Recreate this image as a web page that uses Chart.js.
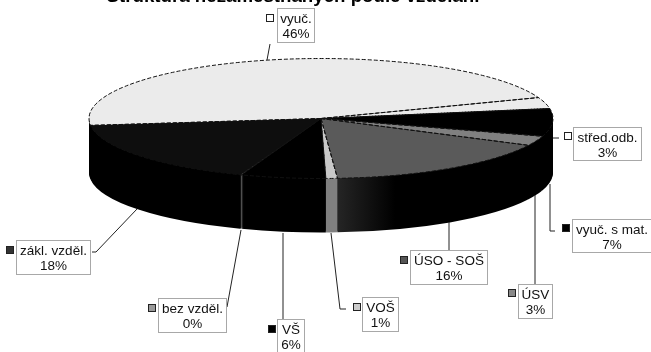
<!DOCTYPE html>
<html>
<head>
<meta charset="utf-8">
<style>
  html, body { margin: 0; padding: 0; background: #fff; overflow: hidden; }
  canvas { display: block; }
</style>
<script src="https://cdn.jsdelivr.net/npm/chart.js@4/dist/chart.umd.min.js"></script>
</head>
<body>
<canvas id="myChart" width="651" height="352"></canvas>
<script>
const chartTitle = "Struktura nezaměstnaných podle vzdělání";
const categories = ["vyuč.", "střed.odb.", "vyuč. s mat.", "ÚSV", "ÚSO - SOŠ", "VOŠ", "VŠ", "bez vzděl.", "zákl. vzděl."];
const shares = [46.16, 3, 7.45, 2.6, 16.49, 0.8, 5.9, 0.1, 17.5];
const percentLabels = ["46%", "3%", "7%", "3%", "16%", "1%", "6%", "0%", "18%"];

const topColors = ["#ebebeb", "#ebebeb", "#000000", "#808080", "#5a5a5a", "#c8c8c8", "#000000", "#999999", "#0e0e0e"];
const sideColors = ["#000000", "#000000", "#000000", "#000000", "#000000", "#808080", "#000000", "#777777", "#000000"];
const keyColors = ["#ffffff", "#ffffff", "#000000", "#888888", "#555555", "#cccccc", "#000000", "#999999", "#333333"];

// label box [left, top, right, bottom] for each category
const labelBoxes = [
  [277, 8, 315, 43], [573, 127, 642, 161], [572, 219, 652, 253],
  [518, 284, 553, 319], [410, 250, 488, 285], [362, 297, 399, 332],
  [277, 319, 305, 354], [158, 298, 227, 333], [16, 240, 91, 275]
];
// centre of the small legend key beside each label
const keyCentres = [
  [270, 18], [568, 136], [566, 228], [512, 293], [404, 260],
  [357, 307], [272, 329], [152, 308], [10, 250]
];
const leaderLines = [
  [[270, 44], [267, 60]],
  [[553, 138], [559, 138]],
  [[550, 184], [550, 231], [555, 231]],
  [[535, 195], [535, 284]],
  [[449, 222], [449, 250]],
  [[331, 233], [340, 309], [346, 309]],
  [[283, 233], [283, 319]],
  [[241, 230], [227, 307]],
  [[137, 209], [96, 252], [92, 252]]
];

const pieX = 321, pieY = 118.5, radiusX = 232, radiusY = 60, depth = 54;
const squash = radiusY / radiusX;

function applyPieTransform(ctx, arc, shift) {
  ctx.translate(pieX, pieY + shift);
  ctx.scale(1, squash);
  ctx.translate(-arc.x, -arc.y);
}

const pie3d = {
  id: "pie3d",
  beforeDatasetsDraw(chart) {
    const ctx = chart.ctx;
    const arcs = chart.getDatasetMeta(0).data;
    const first = arcs[0];

    // ÚSO side fades out to black
    const dx = first.x - pieX;
    const fade = ctx.createLinearGradient(336 + dx, 0, 395 + dx, 0);
    fade.addColorStop(0, "#262626");
    fade.addColorStop(1, "#000000");

    // side wall: same arcs stacked from the bottom upwards
    for (let d = depth; d > 0; d--) {
      ctx.save();
      applyPieTransform(ctx, first, d);
      arcs.forEach((arc, i) => {
        const saved = arc.options;
        arc.options = Object.assign({}, saved, { backgroundColor: i == 4 ? fade : sideColors[i] });
        arc.draw(ctx);
        arc.options = saved;
      });
      ctx.restore();
    }
    ctx.save();
    applyPieTransform(ctx, first, 0);
  },
  afterDatasetsDraw(chart) {
    const ctx = chart.ctx;
    ctx.restore();
    const arcs = chart.getDatasetMeta(0).data;

    // dashed outline of the top face, pen is not squashed
    ctx.save();
    ctx.strokeStyle = "#111111";
    ctx.lineWidth = 1;
    ctx.setLineDash([4, 2]);
    arcs.forEach(arc => {
      ctx.beginPath();
      ctx.moveTo(pieX, pieY);
      ctx.ellipse(pieX, pieY, radiusX, radiusY, 0, arc.startAngle, arc.endAngle);
      ctx.closePath();
      ctx.stroke();
    });
    ctx.restore();

    // leaders, boxes, keys and texts
    ctx.save();
    ctx.textAlign = "center";
    ctx.textBaseline = "middle";
    ctx.font = "13.5px 'Liberation Sans'";
    categories.forEach((name, i) => {
      ctx.strokeStyle = "#222222";
      ctx.lineWidth = 1;
      ctx.beginPath();
      leaderLines[i].forEach((p, j) => j == 0 ? ctx.moveTo(p[0], p[1]) : ctx.lineTo(p[0], p[1]));
      ctx.stroke();

      const b = labelBoxes[i];
      ctx.fillStyle = "#ffffff";
      ctx.fillRect(b[0], b[1], b[2] - b[0], b[3] - b[1]);
      ctx.strokeStyle = "#a8a8a8";
      ctx.strokeRect(b[0] + 0.5, b[1] + 0.5, b[2] - b[0] - 1, b[3] - b[1] - 1);

      const k = keyCentres[i];
      ctx.fillStyle = keyColors[i];
      ctx.fillRect(k[0] - 3.5, k[1] - 3.5, 7, 7);
      ctx.strokeStyle = "#222222";
      ctx.strokeRect(k[0] - 3.5, k[1] - 3.5, 7, 7);

      const mid = (b[0] + b[2]) / 2;
      ctx.fillStyle = "#111111";
      ctx.fillText(name, mid, b[1] + 11);
      ctx.fillText(percentLabels[i], mid, b[1] + 26);
    });
    ctx.restore();
  }
};

new Chart(document.getElementById("myChart").getContext("2d"), {
  type: "pie",
  data: {
    labels: categories,
    datasets: [{
      data: shares,
      backgroundColor: topColors,
      borderWidth: 0,
      radius: radiusX,
      clip: false
    }]
  },
  options: {
    responsive: false,
    animation: false,
    rotation: 263.4,
    layout: { padding: { right: 65 } },
    plugins: {
      legend: { display: false },
      tooltip: { enabled: false },
      title: {
        display: true,
        text: chartTitle,
        color: "#000000",
        font: { family: "'Liberation Sans'", size: 18.7, weight: "bold" },
        padding: { top: -14.5, bottom: 0 }
      }
    }
  },
  plugins: [pie3d]
});
</script>
</body>
</html>
